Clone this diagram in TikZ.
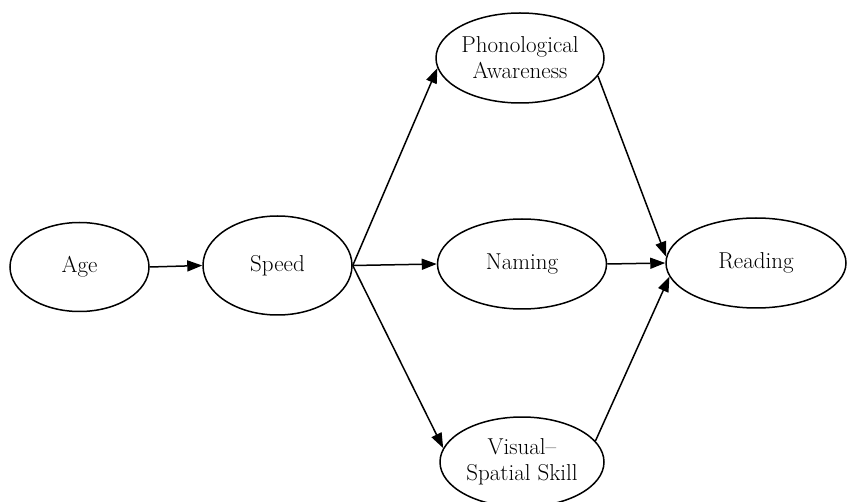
\documentclass[tikz,border=0pt]{standalone}
\usetikzlibrary{shapes.geometric,arrows.meta}
\begin{document}
\begin{tikzpicture}[x=1pt,y=-1pt,
  var/.style={ellipse,draw,line width=1.5pt,inner sep=0pt,align=center,
    font=\fontsize{23}{26}\selectfont},
  link/.style={line width=1.5pt,-{Triangle[length=15pt,width=11pt]}}]
\useasboundingbox[fill=white] (0,0) rectangle (848,502);
\node[var,minimum width=139pt,minimum height=89pt] (age) at (79.5,267) {Age};
\node[var,minimum width=149pt,minimum height=99pt] (speed) at (277.5,265.5) {Speed};
\node[var,minimum width=168pt,minimum height=90pt] (phon) at (520,58) {Phonological\\Awareness};
\node[var,minimum width=169pt,minimum height=90pt] (naming) at (522,264) {Naming};
\node[var,minimum width=164pt,minimum height=90pt] (visual) at (522,462) {Visual--\\Spatial Skill};
\node[var,minimum width=180pt,minimum height=90pt] (reading) at (756,263) {Reading};
\draw[link] (age.east) -- (speed.west);
\draw[link] (speed.east) -- (naming.west);
\draw[link] (speed.east) -- (phon.187);
\draw[link] (speed.east) -- (visual.170);
\draw[link] (phon.347) -- (reading.176);
\draw[link] (naming.east) -- (reading.west);
\draw[link] (visual.16) -- (reading.189);
\end{tikzpicture}
\end{document}
